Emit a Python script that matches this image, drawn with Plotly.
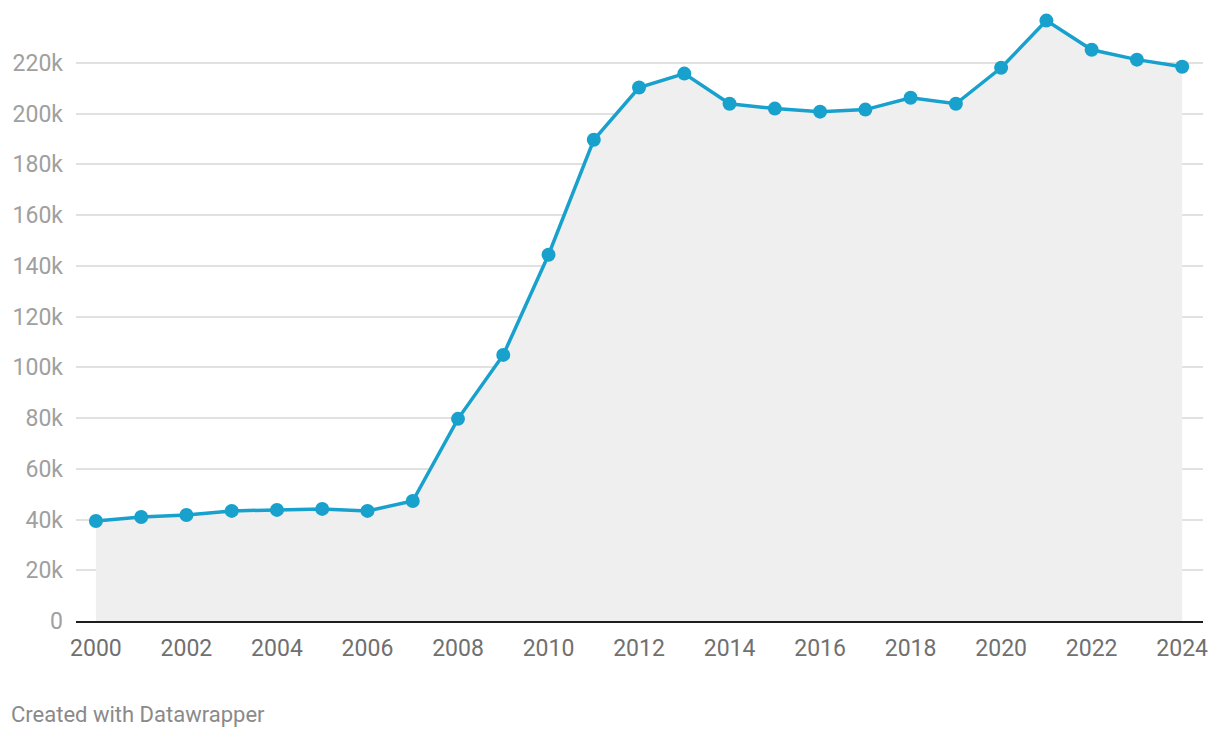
import plotly.graph_objects as go

years = list(range(2000, 2025))
values = [39400, 41000, 41800, 43400, 43800, 44200, 43400, 47300, 79700, 104900,
          144400, 189700, 210300, 215800, 203900, 202000, 200800, 201600, 206300,
          203900, 218100, 236700, 225200, 221300, 218500]

y_ticks = [0, 20000, 40000, 60000, 80000, 100000, 120000, 140000, 160000, 180000, 200000, 220000]
y_labels = ["0", "20k", "40k", "60k", "80k", "100k", "120k", "140k", "160k", "180k", "200k", "220k"]
x_ticks = list(range(2000, 2025, 2))
x_labels = [str(y) for y in x_ticks]

fig = go.Figure()
fig.add_trace(go.Scatter(
    x=years, y=values, mode="lines+markers",
    line=dict(color="#18a1cd", width=3.5),
    marker=dict(color="#18a1cd", size=14),
    fill="tozeroy", fillcolor="#efefef",
    cliponaxis=False,
    hoverinfo="x+y",
))

fig.update_layout(
    width=1220, height=738,
    margin=dict(l=76, r=17, t=15, b=117),
    paper_bgcolor="white", plot_bgcolor="white",
    showlegend=False,
    font=dict(family="Roboto, sans-serif"),
    xaxis=dict(
        range=[1999.56, 2024.46],
        tickvals=x_ticks, ticktext=x_labels,
        showgrid=False, zeroline=False,
        showline=True, linecolor="#1d1d1d", linewidth=2,
        ticks="", tickfont=dict(size=23, color="#707070"),
        ticklabelstandoff=5,
    ),
    yaxis=dict(
        range=[0, 238900],
        tickvals=y_ticks, ticktext=y_labels,
        showgrid=True, gridcolor="#e1e1e1", gridwidth=1.5,
        zeroline=False, showline=False, ticks="",
        tickfont=dict(size=23, color="#a0a0a0"),
        ticklabelstandoff=12,
    ),
)
fig.add_annotation(
    text="Created with Datawrapper",
    x=-67/1127, y=-(714-621)/606,
    xref="paper", yref="paper", xanchor="left", yanchor="middle",
    showarrow=False, font=dict(size=22, color="#8a8a8a", family="Roboto, sans-serif"),
)

fig.write_html("out.html", config={"displayModeBar": False},
               post_script="document.body.style.margin='0';document.body.style.padding='0';")
